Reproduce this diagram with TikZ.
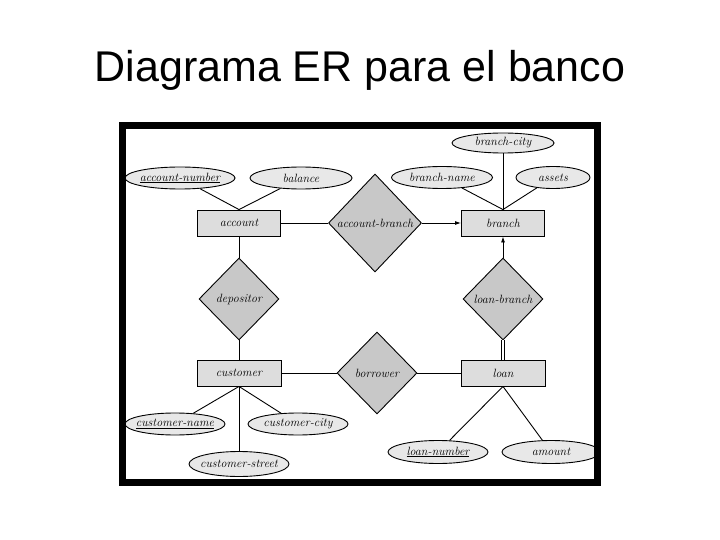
\documentclass[tikz,border=0pt]{standalone}
\usepackage{fontspec}
\newfontfamily\titlefont{Liberation Sans}
\usetikzlibrary{shapes.geometric,arrows.meta}
\definecolor{ellfill}{RGB}{232,232,232}
\definecolor{rectfill}{RGB}{221,221,221}
\definecolor{diafill}{RGB}{200,200,200}
\newcommand{\erfont}{\fontsize{12}{14}\selectfont\itshape}
\newcommand{\zw}[1]{\makebox[0pt]{#1}}
\begin{document}
\begin{tikzpicture}[x=1pt,y=-1pt,
  ent/.style={draw, line width=0.9pt, fill=rectfill, minimum width=83pt, minimum height=26pt, inner sep=0pt, font=\erfont},
  attr/.style={ellipse, draw, line width=0.9pt, fill=ellfill, minimum width=100pt, minimum height=22pt, inner sep=0pt, font=\erfont},
  rel/.style={diamond, draw, line width=0.9pt, fill=diafill, minimum width=80pt, minimum height=82pt, inner sep=0pt, font=\erfont},
  link/.style={draw, line width=0.9pt},
  arr/.style={-{Latex[length=6pt,width=4pt]}}]
\useasboundingbox (0,0) rectangle (720,540);
\node[font=\titlefont\fontsize{43}{50}\selectfont, anchor=base, inner sep=0pt] (title) at (360,82) {Diagrama ER para el banco};

\node[attr, minimum width=110pt] (anum) at (180,178) {\zw{\underline{account-number}}};
\node[attr, minimum width=102pt] (bal) at (301,178) {\zw{balance}};
\node[ent] (acc) at (239,223) {account};
\node[rel, minimum width=93pt, minimum height=98pt] (ab) at (375,223) {\zw{account-branch}};
\node[ent] (br) at (503,223) {branch};
\node[attr, minimum width=102pt, minimum height=20pt] (bcity) at (503,143) {\zw{branch-city}};
\node[attr, minimum width=101pt] (bname) at (442,177.5) {\zw{branch-name}};
\node[attr, minimum width=74pt] (assets) at (553,177.5) {\zw{assets}};
\node[rel] (dep) at (239,299) {\zw{depositor}};
\node[rel] (lb) at (503,299) {\zw{loan-branch}};
\node[ent, minimum width=84pt] (cust) at (239,373) {customer};
\node[rel] (borr) at (377,373) {\zw{borrower}};
\node[ent, minimum width=84pt] (loan) at (503,373) {loan};
\node[attr] (cname) at (175,424) {\zw{\underline{customer-name}}};
\node[attr] (ccity) at (298,424) {\zw{customer-city}};
\node[attr, minimum height=25pt] (cstreet) at (239,464) {\zw{customer-street}};
\node[attr, minimum height=23pt] (lnum) at (438,452) {\zw{\underline{loan-number}}};
\node[attr, minimum width=98pt, minimum height=23pt] (amt) at (551,452) {\zw{amount}};

\draw[link] (anum) -- (acc.north);
\draw[link] (bal) -- (acc.north);
\draw[link] (acc) -- (ab);
\draw[link,arr] (ab) -- (br);
\draw[link] (bname) -- (br.north);
\draw[link] (bcity) -- (br.north);
\draw[link] (assets) -- (br.north);
\draw[link] (acc) -- (dep);
\draw[link] (dep) -- (cust);
\draw[link] (cust) -- (borr);
\draw[link] (borr) -- (loan);
\draw[link,arr] (lb) -- (br);
\draw[link, double, double distance=1.6pt] (lb) -- (loan);
\draw[link] (cust.south) -- (cname);
\draw[link] (cust.south) -- (ccity);
\draw[link] (cust.south) -- (cstreet);
\draw[link] (loan.south) -- (lnum);
\draw[link] (loan.south) -- (amt);

\draw[line width=7pt] (122.5,125.5) rectangle (597.5,482.5);
\end{tikzpicture}
\end{document}
